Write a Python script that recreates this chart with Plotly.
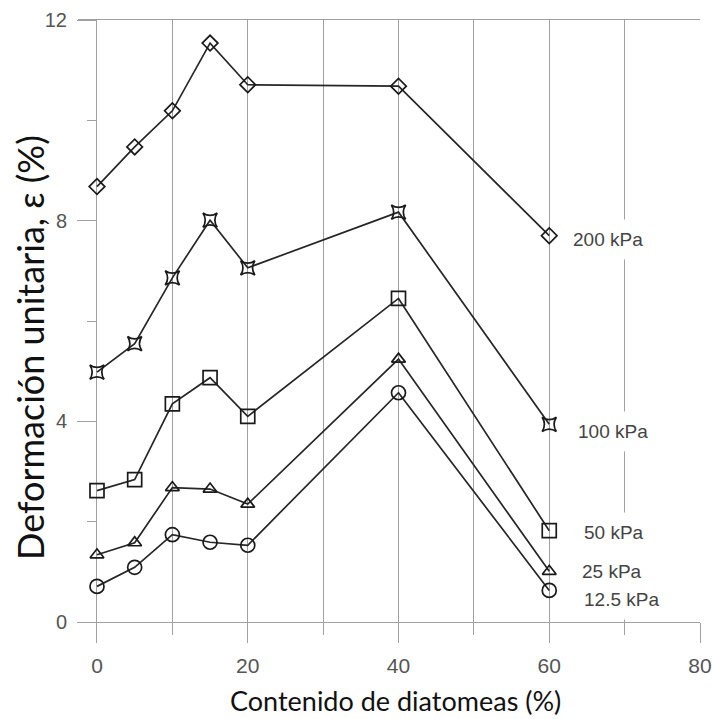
import plotly.graph_objects as go

# Diatomaceous content (%) at which each test was run
diatom_pct = [0, 5, 10, 15, 20, 40, 60]

# Unit strain (%) for each vertical stress level
strain_200 = [8.68, 9.47, 10.19, 11.54, 10.71, 10.68, 7.70]
strain_100 = [4.98, 5.55, 6.86, 8.01, 7.06, 8.17, 3.94]
strain_50 = [2.62, 2.84, 4.35, 4.87, 4.10, 6.45, 1.82]
strain_25 = [1.34, 1.58, 2.68, 2.65, 2.35, 5.24, 1.01]
strain_12_5 = [0.71, 1.09, 1.74, 1.59, 1.53, 4.57, 0.63]

series_names = ["200 kPa", "100 kPa", "50 kPa", "25 kPa", "12.5 kPa"]
series_values = [strain_200, strain_100, strain_50, strain_25, strain_12_5]
series_symbols = ["diamond-open", "star-square-open", "square-open",
                  "triangle-up-open", "circle-open"]
series_sizes = [12, 13, 14, 12, 14]
label_yshift = [-4, -7, -2, 0, -9]
label_xshift = [14, 19, 25, 23, 25]

line_col = "#262626"
grid_col = "#a0a0a0"
sans = "Liberation Sans, Arial, sans-serif"
title_family = "Lato, Carlito, Calibri, sans-serif"

fig = go.Figure()
for name, vals, sym, sz in zip(series_names, series_values, series_symbols, series_sizes):
    fig.add_trace(go.Scatter(
        x=diatom_pct, y=vals, name=name, mode="lines+markers",
        line=dict(color=line_col, width=1.7),
        marker=dict(symbol=sym, size=sz, color="#1a1a1a",
                    line=dict(color="#1a1a1a", width=1.7)),
        showlegend=False,
    ))

# End-of-line series labels, boxed in white so they interrupt the grid
for name, vals, dy, dx in zip(series_names, series_values, label_yshift, label_xshift):
    fig.add_annotation(
        x=diatom_pct[-1], y=vals[-1], xref="x", yref="y",
        text=name, showarrow=False, xanchor="left", yanchor="middle",
        xshift=dx, yshift=dy,
        bgcolor="white", borderpad=9,
        font=dict(family=sans, size=19, color="#444444"),
    )

# Axis titles
fig.add_annotation(
    text="Contenido de diatomeas (%)", xref="paper", yref="paper",
    x=0.511, y=-0.1296, xanchor="center", yanchor="middle", showarrow=False,
    font=dict(family=title_family, size=27, color="#111111"),
)
fig.add_annotation(
    text="Deformación unitaria, ε (%)", xref="paper", yref="paper",
    x=-0.0772, y=0.4568, xanchor="center", yanchor="middle", showarrow=False,
    textangle=-90,
    font=dict(family=title_family, size=36, color="#111111"),
)

fig.update_layout(
    width=713, height=719,
    margin=dict(l=78, r=13, t=20, b=97),
    paper_bgcolor="white", plot_bgcolor="white",
    xaxis=dict(
        range=[-2.52, 80], tick0=0, dtick=20,
        showgrid=True, gridcolor=grid_col, gridwidth=1.3,
        zeroline=False,
        showline=True, linecolor=grid_col, linewidth=1.3, mirror=True,
        ticks="outside", ticklen=20, tickcolor=grid_col, tickwidth=1.3,
        minor=dict(dtick=10, tick0=0, showgrid=True, gridcolor=grid_col, gridwidth=1.3,
                   ticks="outside", ticklen=12, tickcolor=grid_col, tickwidth=1.3),
        tickfont=dict(family=sans, size=21, color="#555555"), ticklabelstandoff=5,
        automargin=False,
    ),
    yaxis=dict(
        range=[0, 12], tick0=0, dtick=4,
        anchor="free", position=(97 - 78) / 622,
        showgrid=False, zeroline=False, showline=False,
        ticks="outside", ticklen=20, tickcolor=grid_col, tickwidth=1.3,
        minor=dict(dtick=2, tick0=0, ticks="outside", ticklen=10,
                   tickcolor=grid_col, tickwidth=1.3, showgrid=False),
        tickfont=dict(family=sans, size=20, color="#555555"), ticklabelstandoff=6,
        automargin=False,
    ),
)

fig.write_html("out.html")
